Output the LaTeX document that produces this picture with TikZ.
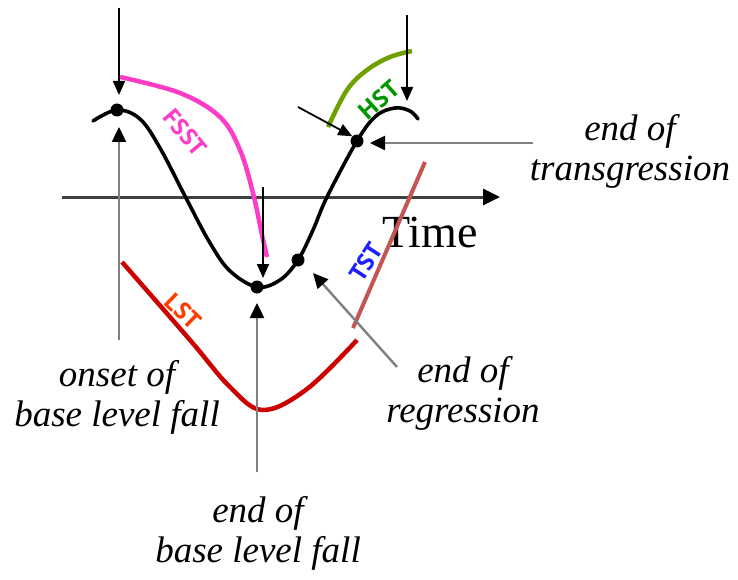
\documentclass[tikz,border=0pt]{standalone}
\usepackage{fontspec}
\setmainfont{Liberation Serif}
\newfontfamily\stfont{Open Sans}
\usepackage{tikz}
\usetikzlibrary{arrows.meta}
\tikzset{dot/.style={circle, fill, inner sep=0pt, minimum size=13pt}}
\tikzset{blk/.style={line width=1.8pt, -{Triangle[length=14pt,width=12pt]}}}
\tikzset{gry/.style={line width=2.4pt, black!50, -{Triangle[length=15pt,width=14pt,black]}}}
\tikzset{txt/.style={align=center, inner sep=0pt, font=\fontsize{37}{40}\selectfont\itshape}}
\tikzset{st/.style={inner sep=0pt, font=\stfont\bfseries\fontsize{24}{24}\selectfont}}

\begin{document}
\begin{tikzpicture}[x=1pt, y=-1pt]
	\useasboundingbox (0,0) rectangle (738,580);

	% time axis
	\coordinate (axL) at (62,197);
	\coordinate (axR) at (500,197);
	\draw[line width=3pt, black!75, -{Triangle[length=17pt,width=16pt,black]}] (axL) -- (axR);
	\node[inner sep=0pt, font=\fontsize{46}{46}\selectfont] (time) at (430,232) {Time};

	% base level curve
	\draw[line width=3.6pt, line cap=round] plot[smooth, tension=0.6] coordinates
		{(93,121) (117,110) (140,119) (160,148) (186,198) (210,243) (230,271) (257,287) (280,280) (298,260) (313,230) (327,197) (357,141) (376,116) (395,108) (410,111) (418,119)};
	\node[dot] (peak) at (117,110) {};
	\node[dot] (trough) at (257,287) {};
	\node[dot] (regr) at (298,260) {};
	\node[dot] (transg) at (357,141) {};

	% systems tracts
	\draw[line width=4.5pt, color={rgb,255:red,255;green,60;blue,200}] plot[smooth, tension=0.6] coordinates
		{(120,77) (180,93) (220,117) (240,150) (253,193) (262,235) (267,257)};
	\node[st, color={rgb,255:red,255;green,60;blue,200}, rotate=-50] (fsst) at (185,132) {FSST};

	\draw[line width=4.5pt, color={rgb,255:red,110;green,160;blue,0}] plot[smooth, tension=0.6] coordinates
		{(328,127) (347,90) (367,70) (390,57) (412,51)};
	\node[st, color={rgb,255:red,0;green,150;blue,0}, rotate=42] (hst) at (379,100) {HST};

	\draw[line width=4.5pt, color={rgb,255:red,205;green,0;blue,0}] plot[smooth, tension=0.6] coordinates
		{(122,262) (190,340) (230,387) (263,410) (307,389) (357,340)};
	\node[st, color={rgb,255:red,255;green,60;blue,0}, rotate=-44] (lst) at (183,311) {LST};

	\draw[line width=4pt, color={rgb,255:red,195;green,85;blue,85}] (353,328) -- (425,162);
	\node[st, color={rgb,255:red,30;green,30;blue,255}, rotate=57] (tst) at (366,262) {TST};

	% black arrows
	\coordinate (topA) at (119,8);
	\coordinate (topB) at (407,15);
	\coordinate (topC) at (263,187);
	\coordinate (diagT) at (298,107);
	\draw[blk] (topA) -- (119,95);
	\draw[blk] (topB) -- (407,101);
	\draw[blk] (topC) -- (263,278);
	\draw[blk] (diagT) -- (transg.north west);

	% labels
	\node[txt] (onset) at (117,397) {onset of\\base level fall};
	\node[txt] (endfall) at (258,533) {end of\\base level fall};
	\node[txt] (endregr) at (463,393) {end of\\regression};
	\node[txt] (endtransg) at (630,151) {end of\\transgression};

	% grey arrows
	\draw[gry] (119,340) -- (119,127);
	\draw[gry] (257,472) -- (257,303);
	\draw[gry] (397,367) -- (313,273);
	\draw[gry] (533,143) -- (370,143);
\end{tikzpicture}
\end{document}
